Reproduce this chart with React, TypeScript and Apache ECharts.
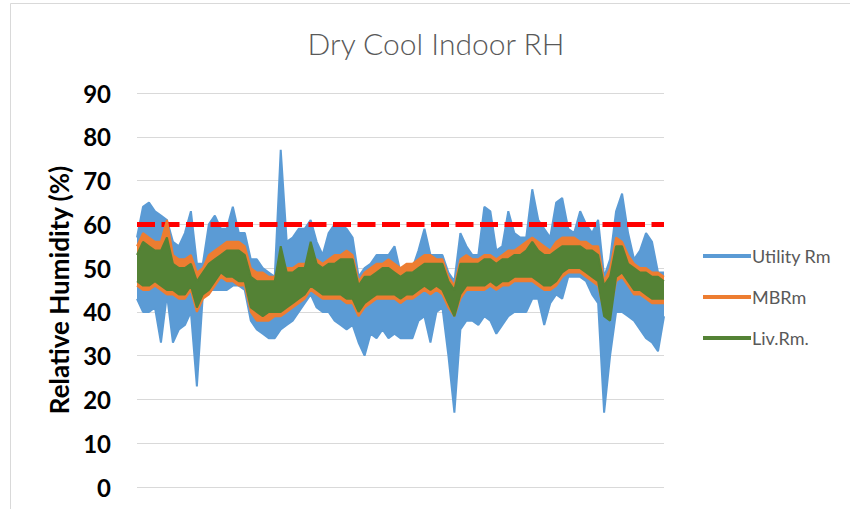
import React, { useEffect, useRef } from "react";
import * as echarts from "echarts";

const chartTitle = "Dry Cool Indoor RH";
const yAxisTitle = "Relative Humidity (%)";
const seriesNames = ["Utility Rm", "MBRm", "Liv.Rm."];
const seriesColors = ["#5b9bd5", "#ed7d31", "#548235"];
const thresholdValue = 60;
const yMin = 0;
const yMax = 90;
const yStep = 10;

// Envelope readings (upper / lower) for each time slot
const utilityHi = [
  57, 64, 65, 63, 62, 61, 56, 55, 58, 63,
  51, 51, 60, 62, 59, 59, 64, 58, 58, 52,
  52, 50, 49, 48, 77, 56, 57, 59, 59, 61,
  56, 53, 58, 60, 60, 59, 57, 48, 50, 51,
  53, 53, 53, 55, 49, 50, 50, 54, 59, 53,
  53, 53, 49, 47, 58, 55, 53, 53, 64, 63,
  54, 55, 63, 58, 57, 57, 68, 61, 59, 57,
  65, 66, 59, 58, 63, 60, 58, 61, 48, 52,
  63, 67, 58, 52, 54, 58, 56, 49, 49,
];
const utilityLo = [
  43, 40, 40, 41, 33, 44, 33, 36, 37, 40,
  23, 44, 45, 45, 45, 45, 46, 46, 45, 38,
  36, 35, 34, 34, 36, 37, 38, 40, 42, 44,
  41, 40, 40, 38, 37, 36, 37, 33, 30, 35,
  34, 36, 34, 35, 34, 34, 34, 38, 39, 33,
  40, 41, 30, 17, 36, 38, 38, 37, 39, 38,
  35, 37, 39, 40, 40, 40, 43, 43, 37, 42,
  44, 43, 48, 48, 48, 47, 44, 42, 17, 30,
  40, 40, 39, 38, 36, 34, 33, 31, 39,
];
const mbrHi = [
  55, 58, 57, 56, 56, 61, 53, 52, 52, 53,
  49, 50, 53, 54, 55, 56, 56, 56, 55, 50,
  49, 49, 48, 48, 51, 50, 50, 51, 51, 52,
  52, 51, 52, 53, 53, 54, 53, 47, 49, 50,
  51, 51, 52, 51, 50, 51, 51, 52, 53, 53,
  52, 52, 48, 46, 52, 53, 52, 52, 53, 53,
  52, 53, 54, 54, 55, 56, 57, 56, 55, 54,
  56, 57, 57, 57, 56, 56, 55, 55, 47, 50,
  57, 56, 53, 51, 50, 50, 49, 49, 48,
];
const mbrLo = [
  46, 45, 45, 46, 45, 44, 44, 43, 43, 45,
  40, 43, 44, 46, 48, 47, 47, 46, 46, 40,
  38, 38, 38, 39, 39, 40, 41, 42, 43, 45,
  44, 43, 43, 43, 43, 42, 42, 39, 41, 42,
  43, 43, 43, 43, 42, 43, 43, 44, 45, 44,
  45, 44, 41, 39, 43, 45, 45, 45, 45, 46,
  45, 46, 46, 47, 47, 47, 47, 46, 45, 45,
  46, 48, 49, 49, 49, 48, 47, 46, 40, 40,
  47, 48, 46, 44, 44, 43, 42, 42, 42,
];
const livHi = [
  53, 56, 55, 54, 54, 57, 51, 50, 50, 51,
  47, 49, 51, 52, 53, 54, 54, 54, 53, 48,
  47, 47, 47, 47, 55, 49, 49, 50, 50, 56,
  51, 50, 51, 51, 52, 52, 52, 46, 48, 48,
  49, 50, 50, 49, 48, 49, 49, 50, 51, 51,
  51, 51, 47, 45, 51, 51, 51, 51, 52, 52,
  51, 52, 52, 53, 53, 54, 56, 54, 53, 53,
  54, 55, 55, 55, 55, 54, 54, 53, 46, 48,
  55, 55, 51, 50, 49, 49, 48, 48, 47,
];
const livLo = [
  47, 46, 46, 47, 46, 45, 45, 44, 44, 46,
  41, 44, 45, 47, 49, 48, 48, 47, 47, 41,
  40, 39, 40, 40, 40, 41, 42, 43, 44, 46,
  45, 44, 44, 44, 44, 43, 43, 40, 42, 43,
  44, 44, 44, 44, 43, 44, 44, 45, 46, 45,
  46, 45, 42, 39, 44, 46, 46, 46, 46, 47,
  46, 47, 47, 48, 48, 48, 48, 47, 46, 46,
  47, 49, 50, 50, 50, 49, 48, 47, 39, 38,
  48, 49, 47, 45, 45, 44, 43, 43, 43,
];

const FONT = "Lato, 'Open Sans', 'Noto Sans', sans-serif";

export default function App() {
  const ref = useRef<HTMLDivElement>(null);

  useEffect(() => {
    if (!ref.current) return;
    const chart = echarts.init(ref.current, undefined, { renderer: "svg" });

    const envelopes = [
      [utilityHi, utilityLo],
      [mbrHi, mbrLo],
      [livHi, livLo],
    ];
    const categories = utilityHi.map((_, i) => String(i));

    const series: any[] = [];
    seriesNames.forEach((name, k) => {
      const [hi, lo] = envelopes[k];
      const color = seriesColors[k];
      // lower edge of the band
      series.push({
        name,
        type: "line",
        stack: "band" + k,
        data: lo,
        symbol: "none",
        showSymbol: false,
        lineStyle: { color, width: 2 },
        itemStyle: { color },
        z: 2 + k * 2,
      });
      // band between lower and upper readings
      series.push({
        name,
        type: "line",
        stack: "band" + k,
        data: hi.map((h, i) => h - lo[i]),
        symbol: "none",
        showSymbol: false,
        lineStyle: { color, width: 2 },
        itemStyle: { color },
        areaStyle: { color, opacity: 1 },
        z: 3 + k * 2,
      });
    });
    series[series.length - 1].markLine = {
      silent: true,
      symbol: ["none", "none"],
      label: { show: false },
      lineStyle: { color: "#ff0000", width: 5, type: [18, 6.5] },
      data: [{ yAxis: thresholdValue }],
    };

    chart.setOption({
      animation: false,
      backgroundColor: "#ffffff",
      textStyle: { fontFamily: FONT },
      graphic: [
        {
          type: "rect",
          shape: { x: 10.5, y: 3.5, width: 900, height: 700 },
          style: { fill: "none", stroke: "#d9d9d9", lineWidth: 1 },
          z: 0,
          silent: true,
        },
        {
          type: "text",
          x: 436,
          y: 43,
          style: {
            text: chartTitle,
            fontFamily: FONT,
            fontSize: 30,
            fontWeight: 300,
            fill: "#595959",
            align: "center",
            verticalAlign: "middle",
          },
        },
      ],
      legend: {
        orient: "vertical",
        left: 698,
        top: 240,
        icon: "rect",
        itemWidth: 48,
        itemHeight: 4,
        itemGap: 19,
        data: seriesNames,
        textStyle: {
          fontFamily: FONT,
          fontSize: 18,
          lineHeight: 22,
          color: "#595959",
          padding: [0, 0, 0, -4],
        },
      },
      grid: { left: 137, right: 186, top: 93, bottom: 22, containLabel: false },
      xAxis: {
        type: "category",
        data: categories,
        boundaryGap: false,
        axisLine: { show: false },
        axisTick: { show: false },
        axisLabel: { show: false },
        splitLine: { show: false },
      },
      yAxis: {
        type: "value",
        min: yMin,
        max: yMax,
        interval: yStep,
        name: yAxisTitle,
        nameLocation: "middle",
        nameGap: 65,
        nameRotate: 90,
        nameTextStyle: {
          fontFamily: FONT,
          fontSize: 26,
          fontWeight: "bold",
          color: "#000000",
        },
        axisLine: { show: false },
        axisTick: { show: false },
        axisLabel: {
          margin: 26,
          fontFamily: FONT,
          fontSize: 24,
          fontWeight: "bold",
          color: "#000000",
        },
        splitLine: { lineStyle: { color: "#d9d9d9", width: 1 } },
      },
      series,
    });

    return () => chart.dispose();
  }, []);

  return (
    <div
      ref={ref}
      style={{ position: "absolute", left: 0, top: 0, width: 850, height: 509 }}
    />
  );
}
